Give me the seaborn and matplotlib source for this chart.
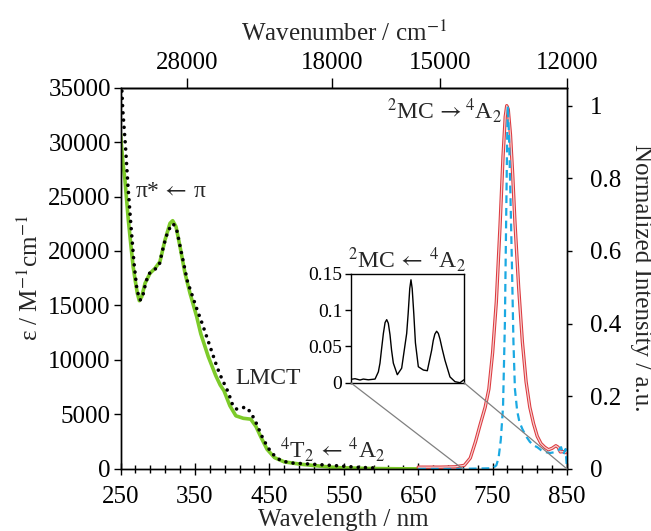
import matplotlib
matplotlib.use("Agg")
import matplotlib.pyplot as plt
import seaborn as sns
import numpy as np
import pandas as pd
from matplotlib.patches import ConnectionPatch

# ---------------- data ----------------
# green solid absorption (nm, M-1 cm-1)
green_wl = [250, 253, 256, 260.5, 264, 267, 270, 272.6, 275.3, 278.5, 283, 289.6, 296.4, 303,
            309.8, 316.5, 320.1, 324.6, 330, 336.7, 343.4, 352.4, 357.9, 368, 378, 384, 389,
            397, 405, 415, 425, 432, 439, 447, 457, 470, 493, 520, 542, 580, 620, 650]
green_eps = [30800, 28300, 26500, 22850, 20500, 18560, 17200, 16120, 15440, 15800, 17040, 17950,
             18410, 19020, 21010, 22540, 22780, 22230, 20390, 17950, 16120, 13970, 12400, 10300,
             8566, 7700, 7184, 5800, 4880, 4650, 4570, 3900, 2880, 1800, 1040, 650, 430, 250, 120,
             50, 20, 10]

# black dotted absorption
dot_wl = [250, 251, 253, 256.7, 260, 263.5, 268, 272, 276, 279, 283, 287, 291, 296, 302, 308, 314,
          321, 326, 332, 340, 347, 353, 360, 370, 380, 385, 395, 400, 405, 412, 418, 425, 432,
          440, 448, 457, 466, 480, 510, 540, 570, 598]
dot_eps = [38000, 36000, 33000, 29600, 26000, 22800, 19000, 16500, 15500, 15600, 16800, 17800,
           18100, 18300, 18700, 20500, 21900, 22500, 21800, 19800, 17200, 15800, 14600, 13300,
           11300, 9300, 8470, 7000, 6000, 5500, 5550, 5700, 5200, 4270, 3000, 1960, 1200, 740,
           550, 430, 300, 150, 80]

# red emission (normalized)
red_wl = [650, 680, 700, 712, 720, 727, 733, 740, 745, 750, 755, 760, 764, 767, 769, 771, 774,
          777, 780, 785, 790, 795, 800, 805, 810, 815, 820, 825, 830, 835, 838, 841, 845, 848, 850]
red_int = [0.005, 0.005, 0.006, 0.01, 0.03, 0.075, 0.12, 0.17, 0.22, 0.32, 0.46, 0.67, 0.86,
           0.97, 1.0, 0.99, 0.92, 0.81, 0.68, 0.50, 0.35, 0.24, 0.17, 0.125, 0.09, 0.07, 0.06,
           0.053, 0.057, 0.064, 0.06, 0.047, 0.048, 0.045, 0.052]

# blue dashed emission (normalized)
blue_wl = [650, 700, 750, 755, 758, 761, 764, 766.5, 768, 769.5, 770.5, 772, 774, 776, 778, 780,
           783, 786, 790, 795, 800, 805, 810, 815, 820, 827, 833, 838, 842, 845, 848, 850]
blue_int = [0.0, 0.0, 0.002, 0.01, 0.03, 0.08, 0.17, 0.40, 0.65, 0.9, 1.0, 0.92, 0.75, 0.56,
            0.35, 0.22, 0.16, 0.13, 0.11, 0.09, 0.075, 0.065, 0.06, 0.052, 0.047, 0.044, 0.046,
            0.05, 0.06, 0.04, 0.055, 0.0]

# inset spin-flip absorption
ins_wl = [710, 715.4, 721.5, 725.6, 731.8, 740.1, 744.2, 746.2, 748, 750.4, 752.5, 754.5, 756.5,
          758.6, 760.5, 762.7, 767.6, 773, 779.2, 781, 783, 784.5, 786, 788, 790, 793.6, 799.8,
          804.7, 810.1, 812, 814, 816.2, 818.3, 820.4, 823, 826.5, 832.7, 838.9, 845.1, 850]
ins_int = [0.0046, 0.0055, 0.0037, 0.005, 0.004, 0.005, 0.015, 0.027, 0.045, 0.068, 0.083, 0.087,
           0.082, 0.066, 0.045, 0.027, 0.011, 0.020, 0.068, 0.095, 0.130, 0.142, 0.130, 0.095,
           0.055, 0.022, 0.0175, 0.0165, 0.045, 0.058, 0.067, 0.071, 0.068, 0.060, 0.047, 0.031,
           0.008, 0.0014, 0.0, 0.004]

x_ticks = [250, 350, 450, 550, 650, 750, 850]
y_ticks = [0, 5000, 10000, 15000, 20000, 25000, 30000, 35000]
y2_ticks = [0, 0.2, 0.4, 0.6, 0.8, 1.0]
y2_labels = ["0", "0.2", "0.4", "0.6", "0.8", "1"]
wn_labels = ["28000", "18000", "15000", "12000"]
wn_pos = [339.5, 534, 679, 850]
ins_ticks = [0, 0.05, 0.1, 0.15]
ins_labels = ["0", "0.05", "0.1", "0.15"]

# ---------------- style ----------------
sns.set_theme(style="ticks")
serif = ["Liberation Serif", "DejaVu Serif"]
plt.rcParams["font.family"] = serif
plt.rcParams["mathtext.fontset"] = "stix"
plt.rcParams["axes.linewidth"] = 1.0
plt.rcParams["axes.edgecolor"] = "black"
plt.rcParams["xtick.color"] = "black"
plt.rcParams["ytick.color"] = "black"

GREEN = "#7dcb2a"
RED = "#dc3a3f"
BLUE = "#1ba9e2"

fig = plt.figure(figsize=(6.51, 5.31), dpi=100)
ax = fig.add_axes([0.1851, 0.1168, 0.8710 - 0.1851, 0.8352 - 0.1168])
ax2 = ax.twinx()

df_g = pd.DataFrame({"wl": green_wl, "eps": green_eps})
df_d = pd.DataFrame({"wl": dot_wl, "eps": dot_eps})
df_r = pd.DataFrame({"wl": red_wl, "I": red_int})
df_b = pd.DataFrame({"wl": blue_wl, "I": blue_int})
df_i = pd.DataFrame({"wl": ins_wl, "I": ins_int})

sns.lineplot(data=df_g, x="wl", y="eps", ax=ax, color=GREEN, lw=2.6, sort=False)
sns.lineplot(data=df_d, x="wl", y="eps", ax=ax, color="black", lw=2.6, sort=False,
             linestyle=(0, (0.01, 2.0)), dash_capstyle="round")

sns.lineplot(data=df_r, x="wl", y="I", ax=ax2, color=RED, lw=2.4, sort=False)
sns.lineplot(data=df_r, x="wl", y="I", ax=ax2, color="#f6d0d0", lw=0.9, sort=False)
sns.lineplot(data=df_b, x="wl", y="I", ax=ax2, color=BLUE, lw=1.6, sort=False,
             linestyle=(0, (3.5, 2.2)))

ax.set_xlim(250, 850)
ax.set_ylim(0, 35000)
ax2.set_ylim(0, 1.05)

FS = 18
ax.set_xticks(x_ticks)
ax.set_xticklabels([str(t) for t in x_ticks], fontsize=FS)
ax.set_xticks(np.arange(250, 851, 20), minor=True)
ax.set_yticks(y_ticks)
ax.set_yticklabels([str(t) for t in y_ticks], fontsize=FS)
ax.tick_params(axis="x", which="major", direction="inout", length=8, width=1, pad=8)
ax.tick_params(axis="x", which="minor", direction="inout", length=5.5, width=1)
ax.tick_params(axis="y", which="major", direction="out", length=5, width=1, pad=2)
ax.set_xlabel("Wavelength / nm", fontsize=FS, labelpad=1)
ax.set_ylabel(r"ε / M$^{-1}$cm$^{-1}$", fontsize=FS, labelpad=4)

ax2.set_yticks(y2_ticks)
ax2.set_yticklabels(y2_labels, fontsize=FS)
ax2.tick_params(axis="y", direction="out", length=3.6, width=1, pad=13)
ax2.set_ylabel("Normalized Intensity / a.u.", fontsize=FS, rotation=270, labelpad=22)

sec = ax.secondary_xaxis("top", functions=(lambda v: v, lambda v: v))
sec.set_xticks(wn_pos)
sec.set_xticklabels(wn_labels, fontsize=FS)
sec.tick_params(axis="x", direction="out", length=7.2, width=1, pad=2.5)
sec.set_xlabel(r"Wavenumber / cm$^{-1}$", fontsize=FS, labelpad=8)

for a in (ax, ax2):
    for s in a.spines.values():
        s.set_color("black")
        s.set_linewidth(1.0)

# annotations
AFS = 17
ax.text(269.5, 25440, r"π*$\,\leftarrow\,$π", fontsize=AFS, ha="left", va="center",
        family=serif)
ax.text(404, 8320, "LMCT", fontsize=AFS, ha="left", va="center", family=serif)
ax.text(464, 1750, r"$^{4}$T$_{2}$$\,\leftarrow\,$$^{4}$A$_{2}$", fontsize=AFS, ha="left",
        va="center", family=serif)
ax.text(608, 32900, r"$^{2}$MC$\,\rightarrow$$^{4}$A$_{2}$", fontsize=AFS, ha="left",
        va="center", family=serif)

# inset
axi = fig.add_axes([0.5387, 0.2793, 0.7127 - 0.5387, 0.4840 - 0.2793])
sns.lineplot(data=df_i, x="wl", y="I", ax=axi, color="black", lw=1.0, sort=False)
axi.set_xlim(710, 850)
axi.set_ylim(0, 0.15)
axi.set_xticks([])
axi.set_yticks(ins_ticks)
axi.set_yticklabels(ins_labels, fontsize=14)
axi.tick_params(axis="y", direction="out", length=4, width=1, pad=2)
axi.set_xlabel("")
axi.set_ylabel("")
axi.set_title(r"$^{2}$MC$\,\leftarrow\,$$^{4}$A$_{2}$", fontsize=AFS, pad=3, family=serif)
for s in axi.spines.values():
    s.set_color("black")
    s.set_linewidth(1.0)

for xa, xb in ((0, 710), (1, 850)):
    con = ConnectionPatch(xyA=(xa, 0), coordsA=axi.transAxes, xyB=(xb, 0), coordsB=ax.transData,
                          color="#808080", lw=0.9)
    fig.add_artist(con)

fig.savefig("out.png", dpi=100)
